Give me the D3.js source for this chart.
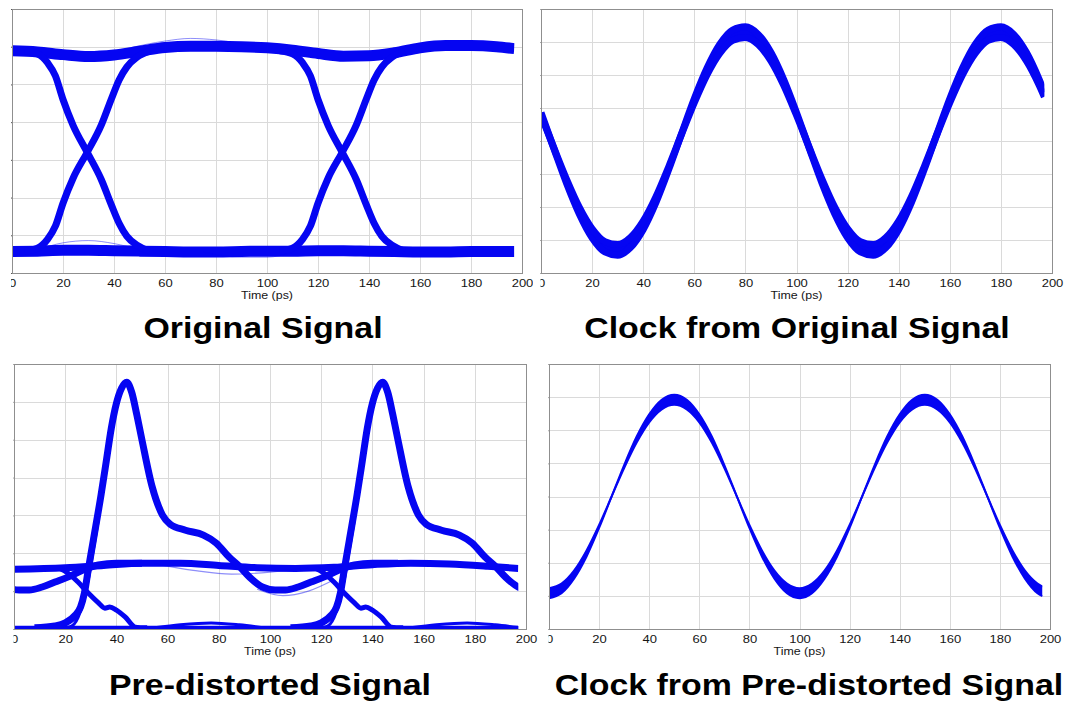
<!DOCTYPE html>
<html>
<head>
<meta charset="utf-8">
<title>Eye diagrams and recovered clocks</title>
<script src="https://cdn.jsdelivr.net/npm/d3@7/dist/d3.min.js"></script>
<style>
    body { margin: 0; background: #fff; }
    text { font-family: "Liberation Sans", Arial, sans-serif; }
</style>
</head>
<body>
<script>
/* ---- data (time in ps, level in grid units) ---- */
var timeTicks = [0, 20, 40, 60, 80, 100, 120, 140, 160, 180, 200];
var recordEnd = 197; // traces stop a bit before 200 ps

// Original Signal: rails
var railT    = [0, 10, 20, 30, 40, 50, 60, 70, 80, 90, 100, 110, 120, 130, 140, 150, 160, 170, 180, 190, 197];
var railHigh = [5.89, 5.86, 5.79, 5.74, 5.78, 5.88, 5.98, 6.01, 6.01, 6.00, 5.97, 5.91, 5.82, 5.75, 5.76, 5.84, 5.97, 6.03, 6.03, 6.00, 5.95];
var railLow  = [0.57, 0.58, 0.60, 0.60, 0.59, 0.58, 0.57, 0.56, 0.56, 0.57, 0.58, 0.58, 0.59, 0.59, 0.58, 0.57, 0.56, 0.56, 0.57, 0.57, 0.57];
// Original Signal: transitions (one bit slot, repeated every 100 ps)
var edgeT    = [5, 10, 14, 17, 20, 24, 29.5, 35, 39, 42, 45, 49, 54];
var edgeFall = [5.89, 5.81, 5.57, 5.23, 4.60, 3.91, 3.20, 2.48, 1.80, 1.32, 0.98, 0.74, 0.58];
var edgeRise = [0.58, 0.66, 0.90, 1.24, 1.85, 2.52, 3.20, 3.92, 4.62, 5.12, 5.46, 5.72, 5.88];
var bitOffsets = [0, 100];
// Original Signal: a few stray traces
var strayT1 = [10, 20, 30, 40, 50],  stray1 = [0.62, 0.80, 0.86, 0.78, 0.62];
var strayT2 = [75, 90, 100, 110],    stray2 = [0.55, 0.42, 0.42, 0.55];
var strayT3 = [45, 60, 70, 80, 95],  stray3 = [5.95, 6.15, 6.22, 6.18, 6.02];

// Clock from Original Signal (outer / inner envelope)
var clockT = [0, 5, 10, 15, 20, 25, 30, 35, 40, 45, 50, 55, 60, 65, 70, 75, 80, 85, 90, 95, 100,
    105, 110, 115, 120, 125, 130, 135, 140, 145, 150, 155, 160, 165, 170, 175, 180, 185, 190, 195, 197];
var clock1Outer = [4.86, 3.78, 2.72, 1.79, 1.07, 0.64, 0.54, 0.77, 1.32, 2.14, 3.14, 4.22, 5.28, 6.21, 6.93, 7.36, 7.46, 7.23, 6.68, 5.86, 4.86,
    3.78, 2.72, 1.79, 1.07, 0.64, 0.54, 0.77, 1.32, 2.14, 3.14, 4.22, 5.28, 6.21, 6.93, 7.36, 7.46, 7.23, 6.68, 5.86, 5.48];
var clock1Inner = [4.78, 3.80, 2.84, 1.99, 1.34, 0.95, 0.86, 1.07, 1.57, 2.31, 3.22, 4.20, 5.16, 6.01, 6.66, 7.05, 7.14, 6.93, 6.43, 5.69, 4.78,
    3.80, 2.84, 1.99, 1.34, 0.95, 0.86, 1.07, 1.57, 2.31, 3.22, 4.20, 5.16, 6.01, 6.66, 7.05, 7.14, 6.93, 6.43, 5.69, 5.34];

// Pre-distorted Signal
var flatT  = [0, 20, 35, 50, 65, 80, 95, 110, 125, 140, 155, 170, 185, 197];
var flat   = [1.58, 1.62, 1.68, 1.74, 1.74, 1.68, 1.62, 1.60, 1.63, 1.70, 1.74, 1.72, 1.66, 1.60];
var pulseT = [8, 16, 20, 24, 26, 27.5, 29, 31, 34, 36, 38, 40, 42, 44, 46, 48, 50, 54, 58, 61,
    67, 74, 79, 84, 88, 92, 97, 102, 106, 111, 116, 121, 127, 133, 140, 150];
var pulse  = [0.03, 0.08, 0.16, 0.37, 0.58, 0.95, 1.56, 2.35, 3.54, 4.41, 5.30, 5.96, 6.36, 6.52, 6.25, 5.65, 4.99, 3.75, 3.01, 2.77,
    2.61, 2.48, 2.27, 1.90, 1.66, 1.37, 1.11, 1.03, 1.03, 1.11, 1.24, 1.37, 1.56, 1.69, 1.74, 1.74];
var lateT  = [18, 22, 25, 27, 29, 31, 33];
var late   = [0.02, 0.06, 0.30, 0.70, 1.30, 2.10, 2.90];
var dropT  = [12, 17, 21, 25, 29, 33, 35.5, 37.4, 40, 43.4, 47.4, 52];
var drop   = [1.62, 1.61, 1.48, 1.24, 0.95, 0.69, 0.55, 0.58, 0.50, 0.32, 0.05, 0.03];
var baseT  = [0, 197];
var base   = [0.03, 0.03];
var bumpT  = [55, 65, 77, 88, 98];
var bump   = [0.03, 0.11, 0.16, 0.11, 0.03];
var pulseOffsets = [-100, 0, 100];
var strayT4 = [55, 70, 85, 100, 115],  stray4 = [1.72, 1.55, 1.45, 1.50, 1.62];
var strayT5 = [95, 105, 115, 125],     stray5 = [1.05, 0.88, 1.00, 1.30];

// Clock from Pre-distorted Signal
var clock2Outer = [0.93, 1.08, 1.52, 2.19, 3.05, 4.00, 4.95, 5.81, 6.48, 6.92, 7.07, 6.92, 6.48, 5.81, 4.95, 4.00, 3.05, 2.19, 1.52, 1.08, 0.93,
    1.08, 1.52, 2.19, 3.05, 4.00, 4.95, 5.81, 6.48, 6.92, 7.07, 6.92, 6.48, 5.81, 4.95, 4.00, 3.05, 2.19, 1.52, 1.08, 0.99];
var clock2Inner = [1.23, 1.37, 1.76, 2.37, 3.14, 4.00, 4.86, 5.63, 6.24, 6.63, 6.77, 6.63, 6.24, 5.63, 4.86, 4.00, 3.14, 2.37, 1.76, 1.37, 1.23,
    1.37, 1.76, 2.37, 3.14, 4.00, 4.86, 5.63, 6.24, 6.63, 6.77, 6.63, 6.24, 5.63, 4.86, 4.00, 3.14, 2.37, 1.76, 1.37, 1.28];

/* ---- drawing ---- */
var blue = '#0505f2';
var stretch = 1.13; // the source picture is slightly wide

var svg = d3.select('body').append('svg')
    .attr('width', 1073)
    .attr('height', 706);

function makePanel(id, box, view, yMax, title) {
    svg.append('clipPath').attr('id', id + '-view').append('rect')
        .attr('x', view[0]).attr('y', view[1])
        .attr('width', view[2] - view[0]).attr('height', view[3] - view[1]);
    svg.append('clipPath').attr('id', id + '-rec').append('rect')
        .attr('x', box.left).attr('y', box.top - 20)
        .attr('width', (box.right - box.left) * recordEnd / 200)
        .attr('height', box.bottom - box.top + 20);

    var g = svg.append('g').attr('clip-path', 'url(#' + id + '-view)');
    var x = d3.scaleLinear().domain([0, 200]).range([box.left, box.right]);
    var y = d3.scaleLinear().domain([0, yMax]).range([box.bottom, box.top]);

    // grid
    g.append('g').selectAll('line').data(timeTicks.slice(1, -1)).enter().append('line')
        .attr('x1', function(d) { return Math.round(x(d)) + 0.5; })
        .attr('x2', function(d) { return Math.round(x(d)) + 0.5; })
        .attr('y1', box.top).attr('y2', box.bottom)
        .attr('stroke', '#dadada');
    g.append('g').selectAll('line').data(d3.range(1, yMax)).enter().append('line')
        .attr('y1', function(d) { return Math.round(y(d)) + 0.5; })
        .attr('y2', function(d) { return Math.round(y(d)) + 0.5; })
        .attr('x1', box.left).attr('x2', box.right)
        .attr('stroke', '#dadada');

    // traces go here
    var data = g.append('g').attr('clip-path', 'url(#' + id + '-rec)');

    // frame
    g.append('rect')
        .attr('x', box.left + 0.5).attr('y', box.top + 0.5)
        .attr('width', box.right - box.left).attr('height', box.bottom - box.top)
        .attr('fill', 'none').attr('stroke', '#8f8f8f');

    // axes
    var xAxis = g.append('g')
        .attr('transform', 'translate(0,' + box.bottom + ')')
        .call(d3.axisBottom(x).tickValues(timeTicks).tickSize(0).tickPadding(6));
    xAxis.select('.domain').remove();
    xAxis.selectAll('text')
        .attr('font-size', '11.5px')
        .attr('fill', '#151515')
        .attr('font-family', '"Liberation Sans", Arial, sans-serif')
        .attr('transform', 'scale(' + stretch + ',1)');

    var yAxis = g.append('g')
        .attr('transform', 'translate(' + box.left + ',0)')
        .call(d3.axisLeft(y).ticks(yMax).tickSize(4).tickFormat(''));
    yAxis.select('.domain').remove();
    yAxis.selectAll('line').attr('stroke', '#555');

    g.append('text')
        .attr('transform', 'translate(' + (box.left + box.right) / 2 + ',' + (box.bottom + 25.5) + ') scale(' + stretch + ',1)')
        .attr('text-anchor', 'middle')
        .attr('font-size', '11px')
        .attr('fill', '#151515')
        .text('Time (ps)');

    // big caption under the panel
    svg.append('text')
        .attr('transform', 'translate(' + title.x + ',' + title.y + ') scale(' + stretch + ',1)')
        .attr('text-anchor', 'middle')
        .attr('font-size', '30px')
        .attr('font-weight', 'bold')
        .attr('fill', '#000')
        .text(title.text);

    return { x: x, y: y, data: data };
}

function drawTrace(p, ts, vs, offsets, width, opacity) {
    var line = d3.line()
        .curve(d3.curveMonotoneX)
        .x(function(d) { return p.x(d[0]); })
        .y(function(d) { return p.y(d[1]); });
    offsets.forEach(function(off) {
        var pts = ts.map(function(t, i) { return [t + off, vs[i]]; });
        p.data.append('path')
            .attr('d', line(pts))
            .attr('fill', 'none')
            .attr('stroke', blue)
            .attr('stroke-width', width)
            .attr('stroke-opacity', opacity)
            .attr('stroke-linejoin', 'round');
    });
}

function drawClock(p, ts, outer, inner, width) {
    var pts = ts.map(function(t, i) { return [t, outer[i], inner[i]]; });
    var area = d3.area()
        .curve(d3.curveMonotoneX)
        .x(function(d) { return p.x(d[0]); })
        .y0(function(d) { return p.y(d[2]); })
        .y1(function(d) { return p.y(d[1]); });
    p.data.append('path').attr('d', area(pts)).attr('fill', blue);
    drawTrace(p, ts, outer, [0], width, 1);
    drawTrace(p, ts, inner, [0], width, 1);
}

/* Original Signal */
var p1 = makePanel('p1', { left: 12, right: 522, top: 9, bottom: 273 }, [11, 0, 533, 312], 7,
    { text: 'Original Signal', x: 263, y: 338 });
drawTrace(p1, railT, railHigh, [0], 11, 1);
drawTrace(p1, railT, railLow, [0], 11, 1);
drawTrace(p1, edgeT, edgeFall, bitOffsets, 7, 1);
drawTrace(p1, edgeT, edgeRise, bitOffsets, 7, 1);
drawTrace(p1, strayT1, stray1, [0], 1, 0.45);
drawTrace(p1, strayT2, stray2, [0], 1, 0.45);
drawTrace(p1, strayT3, stray3, [0], 1, 0.45);

/* Clock from Original Signal */
var p2 = makePanel('p2', { left: 541, right: 1052, top: 9, bottom: 273 }, [540.5, 0, 1073, 312], 8,
    { text: 'Clock from Original Signal', x: 797, y: 338 });
drawClock(p2, clockT, clock1Outer, clock1Inner, 7);

/* Pre-distorted Signal */
var p3 = makePanel('p3', { left: 14, right: 526, top: 364, bottom: 629 }, [13.5, 350, 540, 706], 7,
    { text: 'Pre-distorted Signal', x: 270, y: 695 });
drawTrace(p3, baseT, base, [0], 4, 1);
drawTrace(p3, bumpT, bump, bitOffsets, 3, 1);
drawTrace(p3, flatT, flat, [0], 7, 1);
drawTrace(p3, dropT, drop, bitOffsets, 5, 1);
drawTrace(p3, lateT, late, bitOffsets, 3, 1);
drawTrace(p3, pulseT, pulse, pulseOffsets, 7, 1);
drawTrace(p3, strayT4, stray4, [0], 1.2, 0.45);
drawTrace(p3, strayT5, stray5, [0], 1.2, 0.45);

/* Clock from Pre-distorted Signal */
var p4 = makePanel('p4', { left: 549, right: 1050, top: 364, bottom: 629 }, [548.5, 350, 1073, 706], 8,
    { text: 'Clock from Pre-distorted Signal', x: 809, y: 695 });
drawClock(p4, clockT, clock2Outer, clock2Inner, 2);
</script>
</body>
</html>
